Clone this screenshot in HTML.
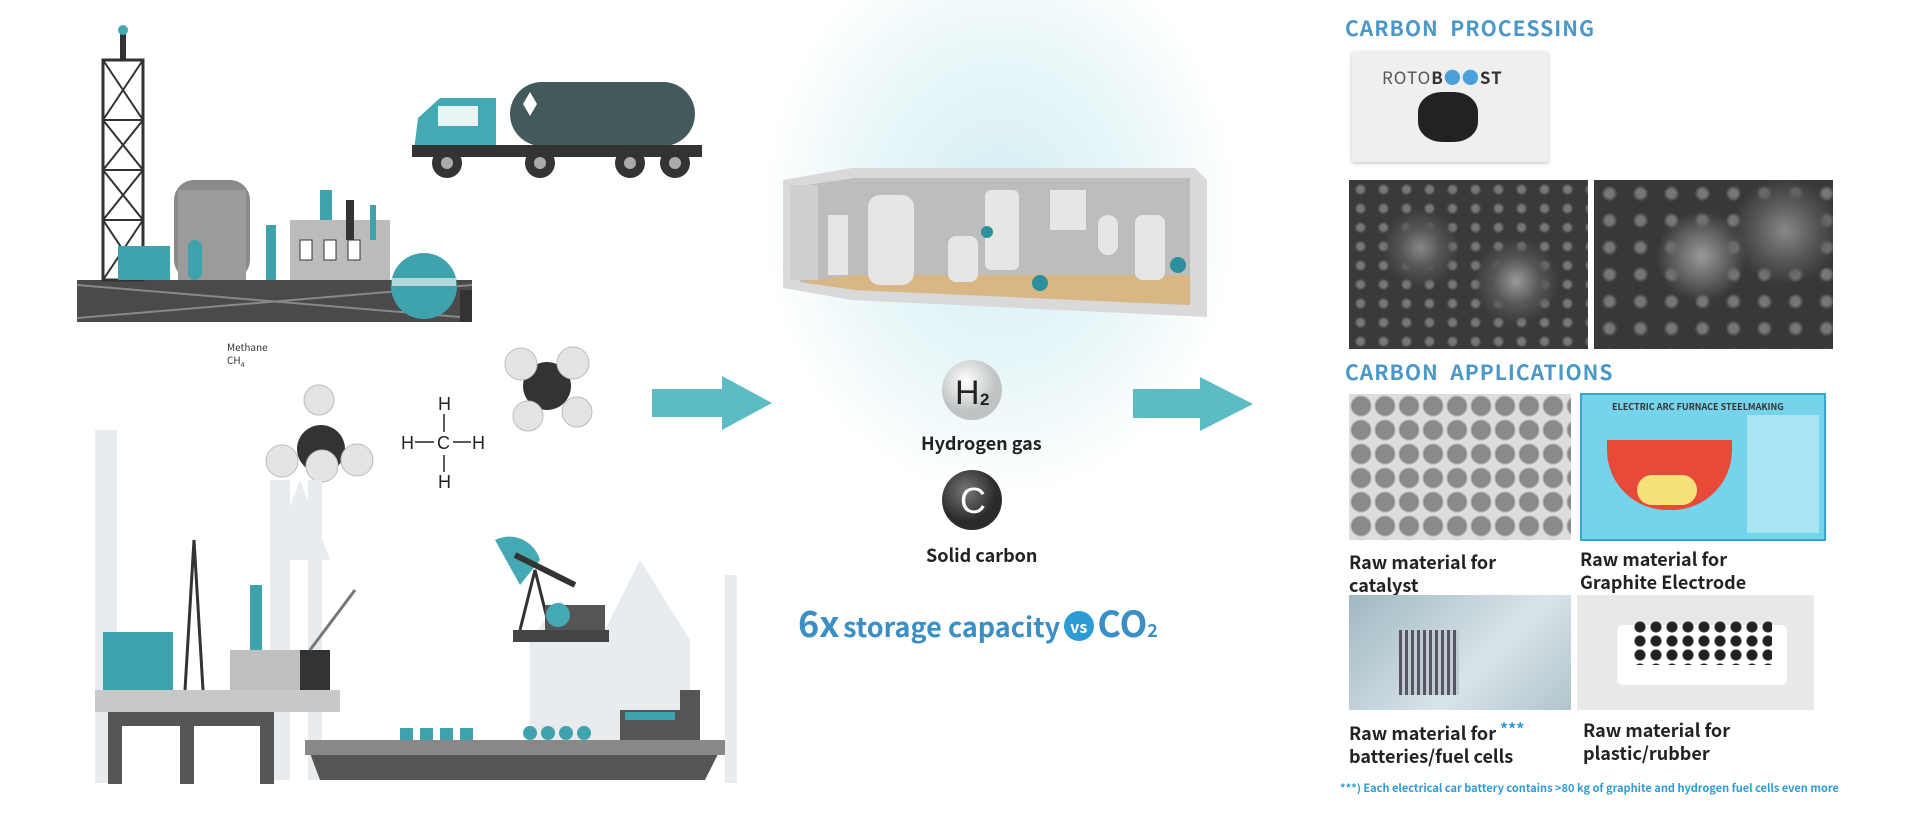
<!DOCTYPE html>
<html><head><meta charset="utf-8"><style>
html,body{margin:0;padding:0}
body{width:1920px;height:819px;position:relative;overflow:hidden;background:#fff;font-family:"Noto Sans CJK SC","Liberation Sans",sans-serif}
.a{position:absolute}
.h{color:#4a97c8;font-weight:bold;font-size:21px;letter-spacing:1px;white-space:nowrap}
.lab{font-size:18px;font-weight:600;color:#222;line-height:23px;white-space:nowrap}
</style></head><body>
<div class="a" style="left:760px;top:-20px;width:480px;height:520px;background:radial-gradient(ellipse at 50% 45%,#d4eef3 0%,#e8f6f8 40%,rgba(255,255,255,0) 70%)"></div>

<svg class="a" style="left:0;top:0" width="1920" height="819">
<g fill="#555" stroke="none">
<rect x="77" y="280" width="395" height="42" fill="#4a4a4a"/>
<path d="M77 285 L472 318 M77 318 L472 285" stroke="#888" stroke-width="2"/>
<rect x="103" y="60" width="40" height="220" fill="none" stroke="#333" stroke-width="3"/>
<path d="M103 60 L143 120 M143 60 L103 120 M103 120 L143 170 M143 120 L103 170 M103 170 L143 220 M143 170 L103 220 M103 220 L143 280 M143 220 L103 280 M103 120 H143 M103 170H143 M103 220H143" stroke="#333" stroke-width="2"/>
<rect x="120" y="28" width="6" height="32" fill="#333"/><circle cx="123" cy="30" r="5" fill="#45a9b3"/>
<rect x="118" y="246" width="52" height="34" fill="#3fa3ad"/>
<rect x="174" y="180" width="76" height="100" rx="20" fill="#8a8a8a"/>
<rect x="178" y="190" width="68" height="90" fill="#9b9b9b"/>
<rect x="188" y="240" width="14" height="40" rx="7" fill="#3fa3ad"/>
<rect x="266" y="225" width="10" height="55" fill="#3fa3ad"/>
<rect x="320" y="190" width="12" height="90" fill="#3fa3ad"/>
<rect x="290" y="220" width="100" height="60" fill="#bbb"/>
<rect x="300" y="240" width="12" height="20" fill="#fff" stroke="#333"/><rect x="324" y="240" width="12" height="20" fill="#fff" stroke="#333"/><rect x="348" y="240" width="12" height="20" fill="#fff" stroke="#333"/>
<rect x="346" y="200" width="8" height="40" fill="#333"/><rect x="370" y="205" width="6" height="35" fill="#3fa3ad"/>
<circle cx="424" cy="286" r="33" fill="#3fa3ad"/>
<rect x="392" y="278" width="64" height="8" fill="#fff" opacity=".6"/>
<rect x="460" y="290" width="12" height="32" fill="#333"/>
</g>
<rect x="510" y="82" width="185" height="64" rx="32" fill="#44595c"/>
<path d="M530 92 L537 104 L530 116 L523 104Z" fill="#fff"/>
<path d="M418 118 L440 98 H496 V150 H414 Z" fill="#45a9b3"/>
<rect x="438" y="106" width="40" height="20" fill="#e8f4f5"/>
<rect x="412" y="145" width="290" height="12" fill="#333"/>
<g fill="#333"><circle cx="447" cy="163" r="15"/><circle cx="540" cy="163" r="15"/><circle cx="630" cy="163" r="15"/><circle cx="675" cy="163" r="15"/></g>
<g fill="#aaa"><circle cx="447" cy="163" r="6"/><circle cx="540" cy="163" r="6"/><circle cx="630" cy="163" r="6"/><circle cx="675" cy="163" r="6"/></g>
<circle cx="321" cy="449" r="24" fill="#333"/>
<g fill="#e4e4e4" stroke="#bbb"><circle cx="319" cy="400" r="15"/><circle cx="282" cy="461" r="16"/><circle cx="357" cy="460" r="16"/><circle cx="322" cy="466" r="16"/></g>
<circle cx="547" cy="386" r="24" fill="#333"/>
<g fill="#e4e4e4" stroke="#bbb"><circle cx="521" cy="364" r="16"/><circle cx="573" cy="363" r="16"/><circle cx="528" cy="416" r="15"/><circle cx="577" cy="412" r="15"/></g>
<g font-family="Liberation Sans" font-size="18" fill="#222"><text x="438" y="410">H</text><text x="438" y="488">H</text><text x="401" y="449">H</text><text x="472" y="449">H</text><text x="437" y="449">C</text></g>
<path d="M444 414 V432 M444 455 V472 M415 442 H434 M453 442 H471" stroke="#222" stroke-width="1.5"/>
<g fill="#e8ecef"><rect x="95" y="430" width="22" height="353"/><rect x="270" y="480" width="20" height="300"/><rect x="308" y="480" width="14" height="300"/><path d="M270 560 L300 480 L330 560Z"/><path d="M530 780 V640 L560 600 L600 640 L640 560 L690 640 V780Z"/><rect x="725" y="575" width="12" height="208"/></g>
<rect x="95" y="690" width="245" height="22" fill="#c8c8c8"/>
<rect x="108" y="712" width="14" height="72" fill="#555"/><rect x="180" y="712" width="14" height="72" fill="#555"/><rect x="260" y="712" width="14" height="72" fill="#555"/><rect x="108" y="712" width="166" height="14" fill="#555"/>
<rect x="103" y="632" width="70" height="58" fill="#3fa3ad"/>
<path d="M185 690 L194 540 L203 690" fill="none" stroke="#333" stroke-width="3"/>
<rect x="250" y="585" width="12" height="105" fill="#3fa3ad"/><rect x="230" y="650" width="70" height="40" fill="#bfbfbf"/>
<rect x="300" y="650" width="30" height="40" fill="#333"/>
<path d="M310 650 L355 590" stroke="#777" stroke-width="3"/>
<path d="M305 740 H725 L705 780 H320 Z" fill="#555"/>
<path d="M305 740 H725 V755 H305Z" fill="#888"/>
<g fill="#3fa3ad"><rect x="400" y="728" width="13" height="12"/><rect x="420" y="728" width="13" height="12"/><rect x="440" y="728" width="13" height="12"/><rect x="460" y="728" width="13" height="12"/><circle cx="530" cy="733" r="7"/><circle cx="548" cy="733" r="7"/><circle cx="566" cy="733" r="7"/><circle cx="584" cy="733" r="7"/></g>
<path d="M620 740 V710 H680 V690 H700 V740Z" fill="#555"/><rect x="625" y="712" width="50" height="8" fill="#3fa3ad"/>
<path d="M495 540 A32 32 0 0 1 540 560 L520 585 Z" fill="#45a9b3"/>
<path d="M515 555 L575 585" stroke="#333" stroke-width="6"/>
<path d="M520 630 L535 570 L550 630" fill="none" stroke="#333" stroke-width="3"/>
<rect x="545" y="605" width="60" height="25" fill="#555"/><circle cx="558" cy="615" r="12" fill="#45a9b3"/>
<rect x="513" y="630" width="96" height="12" fill="#444"/>
<path d="M652 389 H722 V376 L772 403 L722 430 V417 H652Z" fill="#5bbcc4"/>
<path d="M1133 389 H1200 V377 L1253 404 L1200 431 V418 H1133Z" fill="#5bbcc4"/>
<path d="M783 180 L852 168 H1195 L1207 180 V317 L852 300 L783 288Z" fill="#d9d9d9"/>
<path d="M800 186 L855 178 H1190 V305 L855 290 L800 282Z" fill="#bdbdbd"/>
<path d="M800 282 L855 275 H1190 V305 L855 290Z" fill="#d9b784"/>
<rect x="790" y="185" width="28" height="95" fill="#cfcfcf"/>
<g fill="#e6e6e6"><rect x="828" y="215" width="20" height="60"/><rect x="868" y="195" width="46" height="90" rx="12"/><rect x="948" y="236" width="30" height="46" rx="8"/><rect x="985" y="190" width="34" height="80" rx="6"/><rect x="1050" y="190" width="36" height="40"/><rect x="1098" y="215" width="20" height="40" rx="10"/><rect x="1135" y="215" width="30" height="65" rx="8"/></g>
<g fill="#2d8f9c"><circle cx="987" cy="232" r="6"/><circle cx="1040" cy="283" r="8"/><circle cx="1178" cy="265" r="8"/></g>
<defs><radialGradient id="hg" cx=".4" cy=".35"><stop offset="0" stop-color="#fff"/><stop offset="1" stop-color="#bfc3c4"/></radialGradient>
<radialGradient id="cg" cx=".4" cy=".35"><stop offset="0" stop-color="#777"/><stop offset="1" stop-color="#2b2b2b"/></radialGradient></defs>
<circle cx="972" cy="390" r="30" fill="url(#hg)"/>
<text x="955" y="404" font-family="Liberation Sans" font-size="34" fill="#222">H</text><text x="980" y="405" font-family="Liberation Sans" font-size="17" font-weight="bold" fill="#222">2</text>
<circle cx="972" cy="500" r="30" fill="url(#cg)"/>
<text x="960" y="513" font-family="Liberation Sans" font-size="36" fill="#fff">C</text>
</svg>

<div class="a" style="left:227px;top:340px;font-size:10px;color:#333;line-height:13px">Methane<br>CH<sub style="font-size:7px">4</sub></div>
<div class="a lab" style="left:921px;top:432px;font-size:18px">Hydrogen gas</div>
<div class="a lab" style="left:926px;top:544px;font-size:18px">Solid carbon</div>
<div class="a" style="left:798px;top:596px;color:#3b8fc5;white-space:nowrap;font-weight:600"><span style="font-size:36px">6x</span> <span style="font-size:27px">storage capacity</span> <span style="display:inline-block;width:30px;height:30px;border-radius:15px;background:#2d9bd6;color:#fff;font-size:16px;text-align:center;line-height:30px;vertical-align:4px">vs</span> <span style="font-size:36px">CO<sub style="font-size:18px;vertical-align:0">2</sub></span></div>

<div class="a h" style="left:1345px;top:13px">CARBON&nbsp; PROCESSING</div>
<div class="a" style="left:1352px;top:52px;width:196px;height:110px;background:#efefef;box-shadow:0 1px 4px #bbb">
 <div class="a" style="left:30px;top:12px;font-size:17px;color:#555;letter-spacing:1px">ROTO<b style="color:#333">B<span style="color:#4aa0d8">●●</span>ST</b></div>
 <div class="a" style="left:66px;top:40px;width:60px;height:50px;border-radius:40%;background:#222"></div>
</div>
<div class="a" style="left:1349px;top:180px;width:239px;height:169px;background:radial-gradient(circle at 30% 40%,#888 0,#555 10%,transparent 20%),radial-gradient(circle at 70% 60%,#999 0,#555 12%,transparent 22%),radial-gradient(circle,#777 0 3px,transparent 6px) 0 0/23px 19px,#3a3a3a"></div>
<div class="a" style="left:1594px;top:180px;width:239px;height:169px;background:radial-gradient(circle at 45% 45%,#999 0,#666 15%,transparent 28%),radial-gradient(circle at 80% 30%,#888 0,#555 14%,transparent 24%),radial-gradient(circle,#777 0 4px,transparent 8px) 0 0/31px 27px,#383838"></div>
<div class="a h" style="left:1345px;top:357px">CARBON&nbsp; APPLICATIONS</div>
<div class="a" style="left:1349px;top:394px;width:222px;height:146px;background:radial-gradient(circle,#8a8a8a 0,#8a8a8a 9px,#ddd 11px) 0 0/24px 24px"></div>
<div class="a" style="left:1580px;top:393px;width:242px;height:144px;background:#76d3ec;border:2px solid #36a5d2">
 <div class="a" style="left:30px;top:5px;font-size:9px;font-weight:bold;color:#333">ELECTRIC ARC FURNACE STEELMAKING</div>
 <div class="a" style="left:25px;top:45px;width:125px;height:70px;border-radius:0 0 60px 60px;background:#e84a3a"></div>
 <div class="a" style="left:55px;top:80px;width:60px;height:30px;border-radius:30px;background:#f7e27a"></div>
 <div class="a" style="left:165px;top:20px;width:72px;height:118px;background:#a9e4f3"></div>
</div>
<div class="a lab" style="left:1349px;top:551px">Raw material for<br>catalyst</div>
<div class="a lab" style="left:1580px;top:548px">Raw material for<br>Graphite Electrode</div>
<div class="a" style="left:1349px;top:595px;width:222px;height:115px;background:linear-gradient(135deg,#9fb8c2,#d9e4e8 60%,#b0c4cc)">
 <div class="a" style="left:50px;top:35px;width:60px;height:65px;background:repeating-linear-gradient(90deg,#556 0 3px,transparent 3px 6px),#c0ccd0"></div>
</div>
<div class="a" style="left:1577px;top:595px;width:237px;height:115px;background:#e9e9e9">
 <div class="a" style="left:40px;top:30px;width:170px;height:60px;background:#fff;border-radius:6px"></div>
 <div class="a" style="left:55px;top:25px;width:140px;height:45px;background:radial-gradient(circle,#222 0 5px,transparent 6px) 0 0/16px 14px"></div>
</div>
<div class="a lab" style="left:1349px;top:722px">Raw material for<br>batteries/fuel cells</div>
<div class="a" style="left:1500px;top:716px;color:#2d9bd6;font-size:16px;font-weight:bold">***</div>
<div class="a lab" style="left:1583px;top:719px">Raw material for<br>plastic/rubber</div>
<div class="a" style="left:1340px;top:780px;font-size:11px;color:#2d9bd6;white-space:nowrap;font-weight:600">***) Each electrical car battery contains &gt;80 kg of graphite and hydrogen fuel cells even more</div>
</body></html>
